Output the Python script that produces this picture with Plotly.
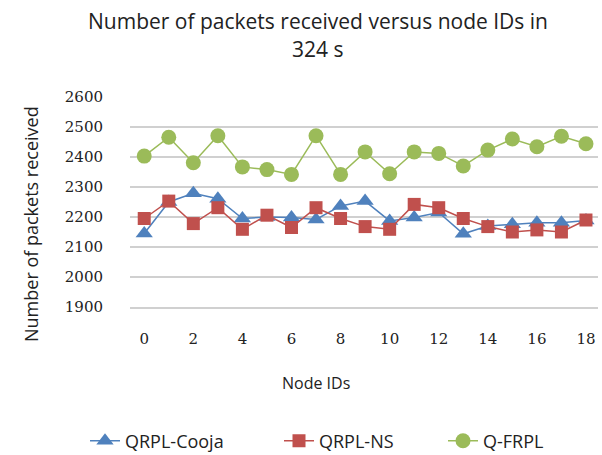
import plotly.graph_objects as go

node_ids = list(range(19))
tick_ids = [0, 2, 4, 6, 8, 10, 12, 14, 16, 18]
y_ticks = [1900, 2000, 2100, 2200, 2300, 2400, 2500, 2600]

qrpl_cooja = [2145, 2250, 2279, 2261, 2195, 2200, 2198, 2192, 2237, 2253,
              2187, 2198, 2215, 2144, 2170, 2176, 2181, 2181, 2188]
qrpl_ns = [2195, 2253, 2178, 2231, 2159, 2206, 2165, 2231, 2195, 2168,
           2159, 2242, 2231, 2195, 2168, 2150, 2157, 2150, 2190]
q_frpl = [2403, 2466, 2381, 2471, 2367, 2358, 2342, 2471, 2342, 2417,
          2344, 2417, 2412, 2370, 2423, 2460, 2434, 2469, 2444]

TXT = "Open Sans"
NUM = "DejaVu Serif"

fig = go.Figure()
fig.add_trace(go.Scatter(x=node_ids, y=qrpl_cooja, name="QRPL-Cooja", mode="lines+markers",
                         legend="legend",
                         line=dict(color="#4F81BD", width=1.5),
                         marker=dict(symbol="triangle-up", size=15, color="#4F81BD")))
fig.add_trace(go.Scatter(x=node_ids, y=qrpl_ns, name="QRPL-NS", mode="lines+markers",
                         legend="legend2",
                         line=dict(color="#C0504D", width=1.5),
                         marker=dict(symbol="square", size=13, color="#C0504D")))
fig.add_trace(go.Scatter(x=node_ids, y=q_frpl, name="Q-FRPL", mode="lines+markers",
                         legend="legend3",
                         line=dict(color="#9BBB59", width=1.5),
                         marker=dict(symbol="circle", size=15, color="#9BBB59")))

L, R, T, B = 130, 598, 97, 307
W, H = R - L, B - T
def px(x):
    return (x - L) / W
def py(y):
    return (B - y) / H

annotations = []
for text, yy in [("Number of packets received versus node IDs in", 21), ("324 s", 49)]:
    annotations.append(dict(text=text, x=px(318), y=py(yy), xref="paper", yref="paper",
                            showarrow=False, xanchor="center", yanchor="middle",
                            font=dict(family=TXT, size=21, color="#222")))
annotations.append(dict(text="Node IDs", x=px(316), y=py(383), xref="paper", yref="paper",
                        showarrow=False, xanchor="center", yanchor="middle",
                        font=dict(family=TXT, size=16, color="#222")))
annotations.append(dict(text="Number of packets received", x=px(31), y=py(224), xref="paper",
                        yref="paper", showarrow=False, textangle=-90, xanchor="center",
                        yanchor="middle", font=dict(family=TXT, size=18, color="#222")))

def leg(x0):
    return dict(orientation="h", x=px(x0), y=py(441), xref="paper", yref="paper",
                xanchor="left", yanchor="middle", bgcolor="rgba(0,0,0,0)",
                font=dict(family=TXT, size=18, color="#222"))

fig.update_layout(
    width=602, height=455,
    margin=dict(l=L, r=602 - R, t=T, b=455 - B, autoexpand=False),
    paper_bgcolor="white", plot_bgcolor="white",
    showlegend=True,
    legend=leg(85), legend2=leg(279), legend3=leg(443),
    annotations=annotations,
    xaxis=dict(range=[-0.58, 18.49], tickvals=tick_ids, showgrid=False, zeroline=False,
               showline=True, linecolor="#d0d0d0", linewidth=1.5, ticks="", automargin=False,
               ticklabelstandoff=17, tickfont=dict(family=NUM, size=15, color="#222")),
    yaxis=dict(range=[1900, 2600], tickvals=y_ticks, showgrid=True, gridcolor="#d0d0d0",
               gridwidth=1.5, zeroline=False, showline=False, ticks="", automargin=False,
               ticklabelstandoff=26, tickfont=dict(family=NUM, size=15, color="#222")),
)

fig.write_html("out.html", config={"displayModeBar": False},
               post_script="document.body.style.margin='0px';")
